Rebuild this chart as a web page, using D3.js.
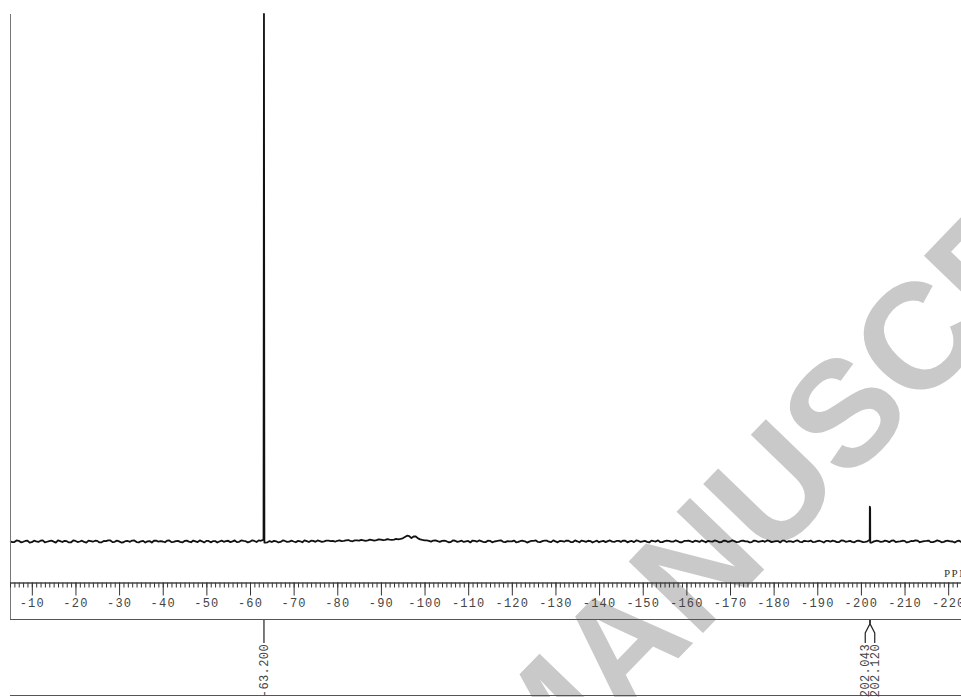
<!DOCTYPE html>
<html>
<head>
<meta charset="utf-8">
<script src="https://cdn.jsdelivr.net/npm/d3@7"></script>
<style>
  html, body { margin: 0; padding: 0; background: #fff; }
  svg { display: block; }
</style>
</head>
<body>
<svg id="chart" width="961" height="697"></svg>
<script>
// 19F NMR trace: chemical shift axis in ppm, intensity in arbitrary units (0 = baseline)

// Baseline samples on whole-ppm points, from -5 ppm down to -225 ppm
const gridStartPpm = -5;
const baselineWhole = [
  0.05,-0.1,0.12,-0.05,0.18,-0.12,0.02,0.15,-0.18,0.08,-0.02,0.2,-0.1,0.05,-0.15,0.1,0.0,-0.08,0.16,-0.04,
  0.12,-0.16,0.06,0.2,-0.06,0.02,-0.14,0.1,0.18,-0.1,0.04,-0.2,0.08,0.14,-0.04,0.0,0.16,-0.12,0.06,-0.08,
  0.1,-0.02,0.18,-0.1,0.04,0.12,-0.16,0.08,0.0,-0.06,0.14,0.02,-0.12,0.2,0.06,-0.04,0.1,0.22,0.3,-0.15,
  -0.1,0.04,-0.08,0.1,-0.04,0.0,0.12,-0.14,0.06,0.16,-0.06,0.08,0.02,0.18,0.1,0.14,0.06,0.2,0.12,0.22,
  0.16,0.22,0.2,0.28,0.26,0.34,0.3,0.36,0.34,0.42,0.6,1.1,0.65,0.95,0.4,0.22,0.12,0.18,0.06,0.12,
  0.05,-0.1,0.14,0.02,-0.08,0.1,0.18,-0.04,0.06,-0.12,0.12,0.0,0.16,-0.06,0.08,0.02,-0.14,0.1,0.04,-0.02,
  0.12,-0.08,0.06,0.16,-0.12,0.02,0.1,-0.04,0.14,-0.1,0.04,0.18,-0.06,0.08,0.0,-0.14,0.12,0.06,-0.02,0.1,
  -0.08,0.14,0.02,-0.12,0.1,0.04,-0.06,0.16,0.0,-0.1,0.08,0.12,-0.04,0.06,-0.14,0.1,0.02,0.16,-0.08,0.04,
  0.12,-0.02,0.08,-0.12,0.14,0.0,0.06,-0.08,0.18,0.02,-0.1,0.1,0.04,-0.06,0.12,-0.02,0.08,0.16,-0.1,0.02,
  0.1,-0.06,0.14,0.04,-0.12,0.08,0.0,0.12,-0.04,0.06,-0.1,0.16,0.02,-0.08,0.1,0.04,-0.06,-0.3,0.02,0.1,
  -0.04,0.08,0.14,-0.1,0.02,0.12,-0.06,0.06,0.16,-0.02,0.1,-0.12,0.04,0.08,-0.08,0.14,0.0,0.06,-0.1,0.12,
  0.04
];
// Baseline samples on the half-ppm points in between (-5.5 ... -224.5 ppm)
const baselineHalf = [
  -0.12,0.2,-0.15,0.1,-0.2,0.15,-0.08,0.22,-0.05,0.18,-0.2,0.06,0.12,-0.18,0.2,-0.1,0.16,-0.22,0.08,0.14,
  -0.18,0.1,0.22,-0.12,0.16,-0.2,0.08,-0.06,0.2,-0.16,0.12,0.02,-0.2,0.18,0.06,-0.14,0.2,-0.08,0.12,-0.18,
  0.16,-0.14,0.04,0.2,-0.18,0.1,0.06,-0.2,0.16,0.08,-0.12,0.2,-0.06,0.1,-0.16,0.22,-0.1,0.14,-0.2,0.08,
  0.12,-0.18,0.2,-0.06,0.16,-0.14,0.04,0.22,-0.1,0.12,0.2,-0.08,0.18,0.06,-0.04,0.22,0.1,0.28,0.04,0.2,
  0.3,0.12,0.34,0.18,0.4,0.24,0.44,0.3,0.48,0.5,0.85,1.0,0.95,0.6,0.3,0.2,-0.02,0.22,-0.06,0.16,
  -0.14,0.2,-0.06,0.16,0.02,-0.18,0.12,0.2,-0.1,0.14,-0.16,0.08,0.22,-0.12,0.04,0.18,-0.08,0.14,-0.2,0.1,
  0.2,-0.12,0.16,-0.04,0.22,-0.16,0.06,0.18,-0.1,0.2,-0.14,0.08,0.14,-0.2,0.16,0.04,-0.12,0.2,-0.06,0.12,
  0.18,-0.16,0.1,0.2,-0.08,0.14,-0.18,0.06,0.22,-0.12,0.16,-0.04,0.2,-0.14,0.1,0.18,-0.1,0.06,0.2,-0.16,
  0.04,0.2,-0.14,0.16,-0.06,0.22,-0.12,0.1,0.02,-0.16,0.18,-0.08,0.14,0.2,-0.12,0.08,-0.18,0.16,0.06,-0.1,
  0.2,-0.14,0.06,0.18,-0.08,0.14,-0.2,0.1,0.16,-0.12,0.2,-0.06,0.12,-0.16,0.18,-0.1,0.04,-0.2,0.14,-0.08,
  0.16,-0.12,0.2,-0.04,0.14,-0.18,0.1,0.22,-0.14,0.06,0.18,-0.1,0.2,-0.16,0.12,0.04,-0.2,0.16,-0.06,0.2
];

// Sharp resonances (labelled shifts)
const peakPpm    = [-63.200, -202.043, -202.120];
const peakHeight = [100, 6.6, 6.3];
const peakLabels = ["-63.200", "-202.043", "-202.120"];

// Scale ticks
const majorTicks = [-10,-20,-30,-40,-50,-60,-70,-80,-90,-100,-110,-120,-130,-140,-150,-160,-170,-180,-190,-200,-210,-220];
const axisUnit = "PPM";

// ---------------------------------------------------------------------------
const svg = d3.select("#chart");
const W = 961;

const x = d3.scaleLinear().domain([-5, -225]).range([10, 970]);
const y = d3.scaleLinear().domain([0, 100]).range([541.5, 14]);

// watermark behind the plot
const wm = svg.append("g")
  .attr("transform", "translate(534,808) rotate(-46)")
  .attr("fill", "#c9c9c9")
  .attr("font-family", "'Liberation Sans', Arial, sans-serif")
  .attr("font-weight", "bold")
  .attr("font-size", 150);
wm.append("text").attr("x", -40).attr("text-anchor", "end").text("ACCEPTED");
wm.append("text").attr("x", 0).text("MANUSCRIPT");

// assemble the trace
const trace = [];
const nearPeak = p => peakPpm.some(q => Math.abs(q - p) < 0.2);
baselineWhole.forEach((v, i) => {
  const p = gridStartPpm - i;
  if (!nearPeak(p)) trace.push([p, v]);
});
baselineHalf.forEach((v, i) => {
  const p = gridStartPpm - 0.5 - i;
  if (!nearPeak(p)) trace.push([p, v]);
});
peakPpm.forEach((p, i) => {
  trace.push([p + 0.1, 0.3]);
  trace.push([p, peakHeight[i]]);
  trace.push([p - 0.1, -0.2]);
});
trace.sort((a, b) => b[0] - a[0]);

const line = d3.line().x(d => x(d[0])).y(d => y(d[1]));

svg.append("path")
  .datum(trace)
  .attr("fill", "none")
  .attr("stroke", "#111")
  .attr("stroke-width", 1.8)
  .attr("stroke-linejoin", "round")
  .attr("d", line);

// frame lines
svg.append("line").attr("x1", 10.5).attr("x2", 10.5).attr("y1", 14).attr("y2", 619)
  .attr("stroke", "#777").attr("stroke-width", 1);
svg.append("line").attr("x1", 10).attr("x2", W).attr("y1", 619.5).attr("y2", 619.5)
  .attr("stroke", "#555").attr("stroke-width", 1);
svg.append("line").attr("x1", 10).attr("x2", W).attr("y1", 695.5).attr("y2", 695.5)
  .attr("stroke", "#555").attr("stroke-width", 1);

// ppm scale
const axisY = 582.5;
const minorTicks = d3.range(-5, -226, -1);
const minorAxis = d3.axisBottom(x).tickValues(minorTicks).tickSize(5).tickFormat("");
const majorAxis = d3.axisBottom(x).tickValues(majorTicks).tickSize(13).tickPadding(3)
  .tickFormat(d => String(d));

const gMinor = svg.append("g").attr("transform", `translate(0,${axisY})`).call(minorAxis);
const gMajor = svg.append("g").attr("transform", `translate(0,${axisY})`).call(majorAxis);
[gMinor, gMajor].forEach(g => {
  g.select(".domain").attr("stroke", "#444").attr("d", `M10,0.5H${W}`);
  g.selectAll(".tick line").attr("stroke", "#333");
});
gMajor.selectAll(".tick text")
  .attr("fill", "#444")
  .attr("font-family", "'Liberation Mono', 'DejaVu Sans Mono', monospace")
  .attr("font-size", 12)
  .attr("letter-spacing", 1.2);

svg.append("text")
  .attr("x", 944).attr("y", 577)
  .attr("fill", "#333")
  .attr("font-family", "'Liberation Serif', serif")
  .attr("font-size", 11)
  .attr("letter-spacing", 1.5)
  .text(axisUnit);

// peak labels, spread apart where they crowd together
const labels = peakPpm.map((p, i) => ({ px: x(p), text: peakLabels[i] }));
labels.sort((a, b) => a.px - b.px);
const groups = [];
labels.forEach(l => {
  const g = groups[groups.length - 1];
  if (g && l.px - g[g.length - 1].px < 9) g.push(l); else groups.push([l]);
});
const gap = 9.5;
groups.forEach(g => {
  const mean = d3.mean(g, d => d.px);
  g.forEach((l, i) => { l.lx = mean + (i - (g.length - 1) / 2) * gap; });
});

const gl = svg.append("g");
labels.forEach(l => {
  gl.append("path")
    .attr("d", `M${l.px},620V624L${l.lx},633V643`)
    .attr("fill", "none").attr("stroke", "#222").attr("stroke-width", 1.2);
  gl.append("text")
    .attr("transform", `translate(${l.lx},644) rotate(-90)`)
    .attr("text-anchor", "end")
    .attr("dy", "0.35em")
    .attr("fill", "#444")
    .attr("font-family", "'Liberation Mono', 'DejaVu Sans Mono', monospace")
    .attr("font-size", 12)
    .attr("letter-spacing", 0.4)
    .text(l.text);
});
</script>
</body>
</html>
